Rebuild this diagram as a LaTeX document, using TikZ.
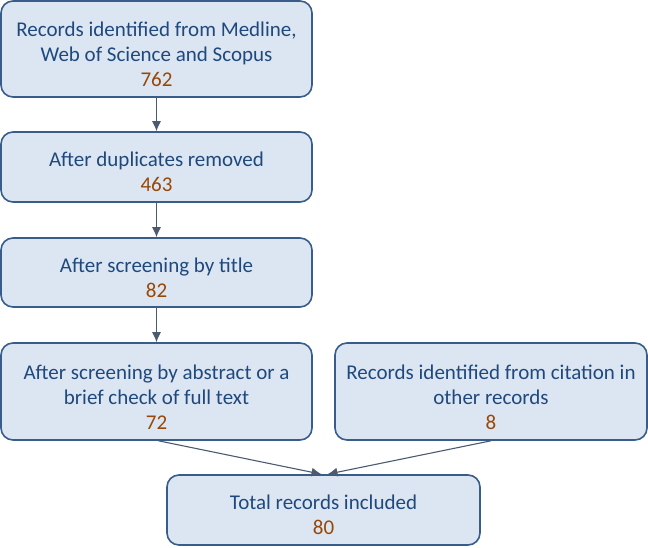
\documentclass[tikz,border=0pt]{standalone}
\usepackage{fontspec}
\setmainfont{Carlito}
\usetikzlibrary{arrows.meta}
\definecolor{boxfill}{RGB}{220,230,242}
\definecolor{boxline}{RGB}{56,93,138}
\definecolor{txt}{RGB}{31,73,125}
\definecolor{num}{RGB}{151,71,6}
\definecolor{arr}{RGB}{75,90,112}
\tikzset{
  box/.style={draw=boxline, fill=boxfill, line width=1.6pt, rounded corners=12pt,
    inner sep=0pt},
  boxtext/.style={align=center, text=txt, font=\fontsize{21}{25}\selectfont, inner sep=0pt},
  conn/.style={draw=arr, line width=1.1pt, -{Latex[length=10pt,width=9pt]}}
}
\begin{document}
\begin{tikzpicture}[x=1pt,y=1pt]
\useasboundingbox (0,0) rectangle (648,-547);
\node[box, minimum width=311pt, minimum height=96pt] (b1) at (156.5,-49) {};
\node[boxtext] (t1) at ([yshift=-5pt]b1.center)
  {Records identified from Medline,\\Web of Science and Scopus\\\textcolor{num}{762}};
\node[box, minimum width=311pt, minimum height=70pt] (b2) at (156.5,-167) {};
\node[boxtext] (t2) at ([yshift=-5pt]b2.center)
  {After duplicates removed\\\textcolor{num}{463}};
\node[box, minimum width=311pt, minimum height=69pt] (b3) at (156.5,-272.5) {};
\node[boxtext] (t3) at ([yshift=-5pt]b3.center)
  {After screening by title\\\textcolor{num}{82}};
\node[box, minimum width=311pt, minimum height=97pt] (b4) at (156.5,-391.5) {};
\node[boxtext] (t4) at ([yshift=-5.5pt]b4.center)
  {After screening by abstract or a\\brief check of full text\\\textcolor{num}{72}};
\node[box, minimum width=312pt, minimum height=97pt] (b5) at (491,-391.5) {};
\node[boxtext] (t5) at ([yshift=-5.5pt]b5.center)
  {Records identified from citation in\\other records\\\textcolor{num}{8}};
\node[box, minimum width=313pt, minimum height=70pt] (b6) at (323.5,-510) {};
\node[boxtext] (t6) at ([yshift=-5pt]b6.center)
  {Total records included\\\textcolor{num}{80}};
\draw[conn] (b1.south) -- (b2.north);
\draw[conn] (b2.south) -- (b3.north);
\draw[conn] (b3.south) -- (b4.north);
\draw[conn] ([xshift=2pt]b4.south) -- ([xshift=-2pt]b6.north);
\draw[conn] (b5.south) -- ([xshift=4pt]b6.north);
\end{tikzpicture}
\end{document}
